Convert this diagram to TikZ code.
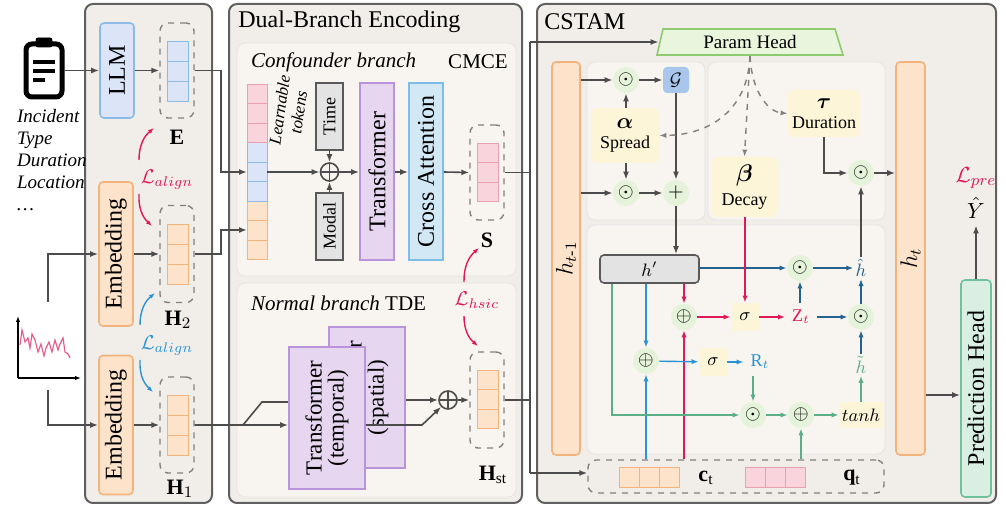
\documentclass[tikz,border=0pt]{standalone}
\usepackage{fontspec}
\setmainfont{Liberation Serif}
\usepackage{amsmath,amssymb,graphicx}
\usetikzlibrary{arrows.meta}
\definecolor{bgpanel}{HTML}{F1EEEA}
\definecolor{bgsub}{HTML}{F8F4EF}
\definecolor{llmfill}{HTML}{DCE4F7}
\definecolor{llmdraw}{HTML}{8DBBE8}
\definecolor{embfill}{HTML}{FDE3C9}
\definecolor{embdraw}{HTML}{F2B47C}
\definecolor{tfill}{HTML}{E6D6F0}
\definecolor{tdraw}{HTML}{B994DC}
\definecolor{cafill}{HTML}{D3E8F5}
\definecolor{cadraw}{HTML}{7EBDE8}
\definecolor{pinkfill}{HTML}{FAD4DC}
\definecolor{pinkdraw}{HTML}{EBA0B0}
\definecolor{yel}{HTML}{FDF5D8}
\definecolor{opg}{HTML}{E4F3D9}
\definecolor{gfill}{HTML}{A9C7EC}
\definecolor{cred}{HTML}{E0185A}
\definecolor{cblue}{HTML}{2A93D5}
\definecolor{cdblue}{HTML}{24628F}
\definecolor{cgreen}{HTML}{5AAF86}
\definecolor{phfill}{HTML}{EAF5DE}
\definecolor{phdraw}{HTML}{8FCB6E}
\definecolor{predfill}{HTML}{D8EFE2}
\definecolor{preddraw}{HTML}{70C19A}

\tikzstyle{panel} = [draw=gray!75!black, line width=1pt, fill=bgpanel, rounded corners=4pt]
\tikzstyle{sub} = [draw=gray!20, fill=bgsub, rounded corners=4pt]
\tikzstyle{box} = [rounded corners=2pt, line width=0.8pt, inner sep=0pt, font=\fontsize{12}{14}\selectfont]
\tikzstyle{dashbox} = [draw=gray, dashed, rounded corners=4pt, line width=0.7pt, inner sep=0pt]
\tikzstyle{op} = [circle, fill=opg, minimum size=13pt, inner sep=0pt, font=\fontsize{10}{10}\selectfont]
\tikzstyle{sop} = [circle, draw=gray!60!black, thick, minimum size=9pt, inner sep=0pt,
  path picture={\draw[gray!60!black, thick] (path picture bounding box.north) -- (path picture bounding box.south)
  (path picture bounding box.west) -- (path picture bounding box.east);}]
\tikzstyle{ybox} = [fill=yel, rounded corners=3pt, inner sep=0pt, align=center, font=\fontsize{9}{10}\selectfont]
\tikzstyle{line} = [draw, -{Latex[length=4pt]}, gray!60!black, line width=0.8pt]
\tikzstyle{gline} = [draw, gray!60!black, line width=0.8pt]
\tikzstyle{rline} = [draw, -{Latex[length=3.5pt]}, cred, line width=0.7pt]
\tikzstyle{bline} = [draw, -{Latex[length=3.5pt]}, cblue, line width=0.7pt]
\tikzstyle{dbline} = [draw, -{Latex[length=3.5pt]}, cdblue, line width=0.7pt]
\tikzstyle{grline} = [draw, -{Latex[length=3.5pt]}, cgreen, line width=0.7pt]
\tikzstyle{dline} = [draw, -{Latex[length=3.5pt]}, gray, dashed, line width=0.7pt]
\tikzstyle{title} = [font=\fontsize{12}{14}\selectfont, inner sep=0pt]

\begin{document}
\begin{tikzpicture}[x=0.5pt, y=-0.5pt, font=\fontsize{9}{11}\selectfont]
	\useasboundingbox (0,0) rectangle (1006,506);

	% Panels
	\draw[panel] (85,4) rectangle (212,503);
	\draw[panel] (229,4) rectangle (522,503);
	\draw[panel] (537,4) rectangle (996,503);
	\node[title, anchor=west] at (238,22) {Dual-Branch Encoding};
	\node[title, anchor=west] at (544,22) {CSTAM};
	\draw[sub] (237,43) rectangle (516,276);
	\draw[sub] (237,283) rectangle (516,497);

	% Inputs
	\draw[line width=2.5pt, rounded corners=3pt] (26,44) rectangle (62,97);
	\draw[fill=black, rounded corners=1pt] (36,38) rectangle (52,47);
	\draw[line width=2pt] (33,62) -- (55,62) (33,71) -- (55,71) (33,80) -- (45,80);
	\coordinate (clip) at (64,70.5);
	\node[anchor=west, align=left, font=\itshape\fontsize{9.5}{11}\selectfont] (desc) at (10,160) {Incident\\Type\\Duration\\Location\\\dots};
	\draw[-{Latex[length=3pt]}, line width=0.7pt] (18,378) -- (18,316);
	\draw[-{Latex[length=3pt]}, line width=0.7pt] (18,378) -- (81,378);
	\draw[cred!70, line width=0.6pt] plot coordinates {(20,345) (22,330) (25,342) (28,338) (30,348) (32,334) (35,340) (38,352) (41,344) (44,356) (46,348) (49,342) (52,352) (55,340) (58,350) (60,344) (63,338) (65,352) (68,354) (70,358)};

	% Embedding panel
	\node[box, draw=llmdraw, fill=llmfill, minimum width=17pt, minimum height=47.5pt] (llm) at (117,70.5) {\rotatebox{90}{LLM}};
	\node[dashbox, minimum width=17pt, minimum height=47.5pt] (ebox) at (177,70.5) {};
	\foreach \i in {0,1,2} \draw[llmdraw, fill=llmfill] (167,41+\i*20) rectangle ++(21,20);
	\node (elab) at (177,137) {\fontsize{11}{11}\selectfont$\mathbf{E}$};
	\node[box, draw=embdraw, fill=embfill, minimum width=17pt, minimum height=72pt] (emb2) at (116,254) {\rotatebox{90}{Embedding}};
	\node[dashbox, minimum width=17pt, minimum height=48.5pt] (h2box) at (177,254) {};
	\foreach \i in {0,1,2} \draw[embdraw, fill=embfill] (167,224+\i*20) rectangle ++(21,20);
	\node (h2lab) at (178,320) {\fontsize{11}{11}\selectfont$\mathbf{H}_2$};
	\node[box, draw=embdraw, fill=embfill, minimum width=17pt, minimum height=69.5pt] (emb1) at (116,425) {\rotatebox{90}{Embedding}};
	\node[dashbox, minimum width=17pt, minimum height=48pt] (h1box) at (177,425) {};
	\foreach \i in {0,1,2} \draw[embdraw, fill=embfill] (167,395+\i*20) rectangle ++(21,20);
	\node (h1lab) at (180,489) {\fontsize{11}{11}\selectfont$\mathbf{H}_1$};
	\node[cred] (la1) at (167,180) {\fontsize{10}{10}\selectfont$\mathcal{L}_{align}$};
	\node[cblue] (la2) at (167,346) {\fontsize{10}{10}\selectfont$\mathcal{L}_{align}$};
	\draw[-{Latex[length=3pt]}, cred, line width=0.7pt] (139,160) to[bend left=25] (154,128);
	\draw[-{Latex[length=3pt]}, cred, line width=0.7pt] (139,194) to[bend right=25] (152,226);
	\draw[-{Latex[length=3pt]}, cblue, line width=0.7pt] (140,325) to[bend left=25] (155,293);
	\draw[-{Latex[length=3pt]}, cblue, line width=0.7pt] (140,360) to[bend right=25] (153,392);
	\path[line] (clip) -- (llm.west);
	\path[line] (llm.east) -- (ebox.west);
	\path[line] (48,302) |- (emb2.west);
	\path[line] (48,390) |- (emb1.west);
	\path[line] (emb2.east) -- (h2box.west);
	\path[line] (emb1.east) -- (h1box.west);

	% Confounder branch
	\node[anchor=west, font=\itshape\fontsize{10.5}{12}\selectfont] (cbr) at (244,62) {Confounder branch};
	\node[font=\fontsize{10.5}{12}\selectfont] (cmce) at (478,62) {CMCE};
	\foreach \i in {0,1,2} {
		\draw[pinkdraw, fill=pinkfill] (247,84+\i*19.5) rectangle ++(20,19.5);
		\draw[llmdraw, fill=llmfill] (247,142.5+\i*19.5) rectangle ++(20,19.5);
		\draw[embdraw, fill=embfill] (247,201+\i*19.5) rectangle ++(20,19.5);
	}
	\coordinate (tokB) at (247,172);
	\coordinate (tokO) at (247,230);
	\coordinate (tokR) at (267,172);
	\node[rotate=82, align=center, font=\itshape\fontsize{8.5}{9.5}\selectfont] (learn) at (289,111) {Learnable\\tokens};
	\node[box, rounded corners=0pt, draw=gray!70!black, fill=gray!22, minimum width=13.5pt, minimum height=33.5pt, font=\fontsize{9}{10}\selectfont] (time) at (329.5,116.5) {\rotatebox{90}{Time}};
	\node[box, rounded corners=0pt, draw=gray!70!black, fill=gray!22, minimum width=13.5pt, minimum height=33.5pt, font=\fontsize{9}{10}\selectfont] (modal) at (329.5,226.5) {\rotatebox{90}{Modal}};
	\node[sop] (opl1) at (329.5,172) {};
	\node[box, rounded corners=0pt, draw=tdraw, fill=tfill, minimum width=17pt, minimum height=88.5pt] (trans) at (377,171.5) {\rotatebox{90}{Transformer}};
	\node[box, rounded corners=0pt, draw=cadraw, fill=cafill, minimum width=17pt, minimum height=88.5pt] (cross) at (426,171.5) {\rotatebox{90}{Cross Attention}};
	\node[dashbox, minimum width=17pt, minimum height=47.5pt] (sbox) at (487,172.5) {};
	\foreach \i in {0,1,2} \draw[pinkdraw, fill=pinkfill] (477,143+\i*19.5) rectangle ++(21,19.5);
	\node (slab) at (487,240) {\fontsize{11}{11}\selectfont$\mathbf{S}$};
	\path[line] (ebox.east) -- (221,70.5) |- (tokB);
	\path[line] (h2box.east) -- (221,254) |- (tokO);
	\path[line] (tokR) -- (opl1.west);
	\path[line] (time.south) -- (opl1.north);
	\path[line] (modal.north) -- (opl1.south);
	\path[line] (opl1.east) -- (trans.west |- opl1);
	\path[line] (trans.east |- opl1) -- (cross.west |- opl1);
	\path[line] (cross.east |- opl1) -- (sbox.west);

	% Normal branch
	\node[anchor=west, font=\fontsize{10.5}{12}\selectfont] (nbr) at (244,303) {\textit{Normal branch} TDE};
	\path[gline] (h1box.east) -- (243,425) -- (262,402) -- (300,402);
	\node[box, rounded corners=0pt, draw=tdraw, fill=tfill, minimum width=38pt, minimum height=70.5pt, font=\fontsize{11.5}{13}\selectfont] (spat) at (367,397.5) {\rotatebox{90}{\shortstack{Transformer\\(spatial)}}};
	\node[box, rounded corners=0pt, draw=tdraw, fill=tfill, minimum width=38pt, minimum height=71pt, font=\fontsize{11.5}{13}\selectfont] (temp) at (327,418) {\rotatebox{90}{\shortstack{Transformer\\(temporal)}}};
	\path[line] (243,425) -- (temp.west |- h1box.east);
	\node[sop] (opl2) at (448,400) {};
	\node[dashbox, minimum width=17pt, minimum height=48pt] (hstbox) at (487,400) {};
	\foreach \i in {0,1,2} \draw[embdraw, fill=embfill] (477,370+\i*19.5) rectangle ++(21,19.5);
	\node (hstlab) at (493,475) {\fontsize{11}{11}\selectfont$\mathbf{H}_{\mathrm{st}}$};
	\path[line] (spat.east |- opl2) -- (opl2.west);
	\path[line] (temp.east |- h1box.east) -- (422,425) -- (opl2.south west);
	\path[line] (opl2.east) -- (hstbox.west);
	\node[cred] (lh) at (477,300) {\fontsize{10}{10}\selectfont$\mathcal{L}_{hsic}$};
	\draw[-{Latex[length=3pt]}, cred, line width=0.7pt] (464,282) to[bend left=25] (479,248);
	\draw[-{Latex[length=3pt]}, cred, line width=0.7pt] (464,316) to[bend right=25] (478,346);

	% Links into CSTAM
	\path[gline] (sbox.east) -- (530,172.5);
	\path[gline] (hstbox.east) -- (530,400);
	\path[gline] (530,42) -- (530,473);

	% CSTAM
	\draw[fill=phfill, draw=phdraw, line width=0.8pt] (663,29) -- (835,29) -- (843,55) -- (657,55) -- cycle;
	\node[minimum width=91pt, minimum height=13pt, inner sep=0pt, font=\fontsize{9.5}{11}\selectfont] (ph) at (750,42) {Param Head};
	\coordinate (phb) at (750,56);
	\path[line] (530,42) -- (ph.west);
	\node[box, draw=embdraw, fill=embfill, minimum width=14pt, minimum height=196.5pt] (htm) at (566,258.5) {\rotatebox{90}{$h_{t\text{-}1}$}};
	\node[box, draw=embdraw, fill=embfill, minimum width=14.5pt, minimum height=196.5pt] (hta) at (910.5,258.5) {\rotatebox{90}{$h_{t}$}};
	\draw[sub] (587,62) rectangle (705,220);
	\draw[sub] (708,62) rectangle (885,220);
	\draw[sub] (587,225) rectangle (885,454);

	\node[op] (od1) at (626,80) {$\odot$};
	\node[fill=gfill, rounded corners=2pt, minimum size=13pt, inner sep=0pt] (gbox) at (676,80) {$\mathcal{G}$};
	\node[ybox, minimum width=34pt, minimum height=27.5pt] (alpha) at (625,135.5) {{\fontsize{11}{12}\selectfont$\boldsymbol{\alpha}$}\\Spread};
	\node[op] (od2) at (626,193) {$\odot$};
	\node[op] (plus1) at (676,193) {$+$};
	\node[ybox, minimum width=32.5pt, minimum height=30pt] (beta) at (744.5,187) {{\fontsize{12}{13}\selectfont$\boldsymbol{\beta}$}\\[2pt]Decay};
	\node[ybox, minimum width=36pt, minimum height=23.5pt] (tau) at (824,113.5) {{\fontsize{11}{12}\selectfont$\boldsymbol{\tau}$}\\Duration};
	\node[op] (od3) at (861,173) {$\odot$};
	\path[line] (htm.east |- od1) -- (od1);
	\path[line] (od1) -- (gbox);
	\path[line] (alpha.north -| od1) -- (od1);
	\path[line] (alpha.south -| od2) -- (od2);
	\path[line] (htm.east |- od2) -- (od2);
	\path[line] (od2) -- (plus1);
	\path[line] (gbox) -- (plus1);
	\path[dline] (phb) .. controls (748,110) and (710,135) .. (alpha.east);
	\path[dline] (phb) -- (beta.north);
	\path[dline] (phb) .. controls (752,95) and (770,112) .. (tau.west);
	\path[line] (tau.south) |- (od3);
	\path[line] (od3) -- (hta.west |- od3);

	\node[box, draw=gray!70!black, fill=gray!22, minimum width=49.5pt, minimum height=14pt, font=\fontsize{9}{10}\selectfont] (hp) at (649.5,269) {$h'$};
	\node[op] (oda) at (800,268) {$\odot$};
	\node[cdblue, inner sep=1pt] (hhat) at (861,268) {$\hat{h}$};
	\node[op] (opz) at (684,317) {$\oplus$};
	\node[fill=yel, minimum size=14pt, inner sep=0pt] (sz) at (745,317) {$\sigma$};
	\node[cred] (zt) at (801,317) {$\mathrm{Z}_t$};
	\node[op] (odb) at (861,317) {$\odot$};
	\node[op] (opr) at (646,361) {$\oplus$};
	\node[fill=yel, minimum size=14pt, inner sep=0pt] (sr) at (713,362) {$\sigma$};
	\node[cblue] (rt) at (760,362) {$\mathrm{R}_t$};
	\node[cgreen, inner sep=1pt] (htil) at (861,365) {$\tilde{h}$};
	\node[op] (odc) at (753,415) {$\odot$};
	\node[op] (opc) at (801,415) {$\oplus$};
	\node[fill=yel, minimum width=22pt, minimum height=13pt, inner sep=0pt] (tanh) at (861,415) {$tanh$};
	\node[dashbox, minimum width=148pt, minimum height=16.5pt] (ctbox) at (736,476.5) {};
	\foreach \i in {0,1,2} {
		\draw[embdraw, fill=embfill] (619+\i*20,467) rectangle ++(20,20);
		\draw[pinkdraw, fill=pinkfill] (745+\i*20,467) rectangle ++(20,20);
	}
	\node (ctlab) at (706,478) {\fontsize{11}{11}\selectfont$\mathbf{c}_{\mathrm{t}}$};
	\node (qtlab) at (852,478) {\fontsize{11}{11}\selectfont$\mathbf{q}_{\mathrm{t}}$};
	\path[line] (530,473) -- (ctbox.west |- 0,473);
	\path[line] (plus1) -- (plus1 |- hp.north);

	\path[dbline] (hp.east |- oda) -- (oda);
	\path[dbline] (oda) -- (hhat);
	\path[dbline] (zt) -- (odb);
	\path[dbline] (zt.north -| oda) -- (oda.south);
	\path[dbline] (odb) -- (hhat);
	\path[dbline] (htil) -- (odb);
	\path[line] (hhat.north) -- (od3.south);
	\path[rline] (hp.south -| opz) -- (opz);
	\path[rline] (beta.south -| sz) -- (sz);
	\path[rline] (opz) -- (sz);
	\path[rline] (sz) -- (zt);
	\path[rline] (ctbox.north -| opz) -- (opz);
	\path[bline] (hp.south -| opr) -- (opr);
	\path[bline] (ctbox.north -| opr) -- (opr);
	\path[bline] (opr) -- (sr);
	\path[bline] (sr) -- (rt);
	\path[grline] (rt.south -| odc) -- (odc);
	\path[grline] (hp.south -| 612,0) |- (odc);
	\path[grline] (odc) -- (opc);
	\path[grline] (ctbox.north -| opc) -- (opc);
	\path[grline] (opc) -- (tanh);
	\path[grline] (tanh) -- (htil);

	% Prediction
	\node[box, draw=preddraw, fill=predfill, minimum width=15pt, minimum height=108.5pt] (pred) at (976,388.5) {\rotatebox{90}{Prediction Head}};
	\node (yhat) at (976,208) {\fontsize{11}{11}\selectfont$\hat{Y}$};
	\node[cred] (lpre) at (976,178) {\fontsize{11}{11}\selectfont$\mathcal{L}_{pre}$};
	\path[line] (hta.east |- 0,395) -- (pred.west |- 0,395);
	\path[line] (pred.north) -- (yhat.south);

\end{tikzpicture}
\end{document}
